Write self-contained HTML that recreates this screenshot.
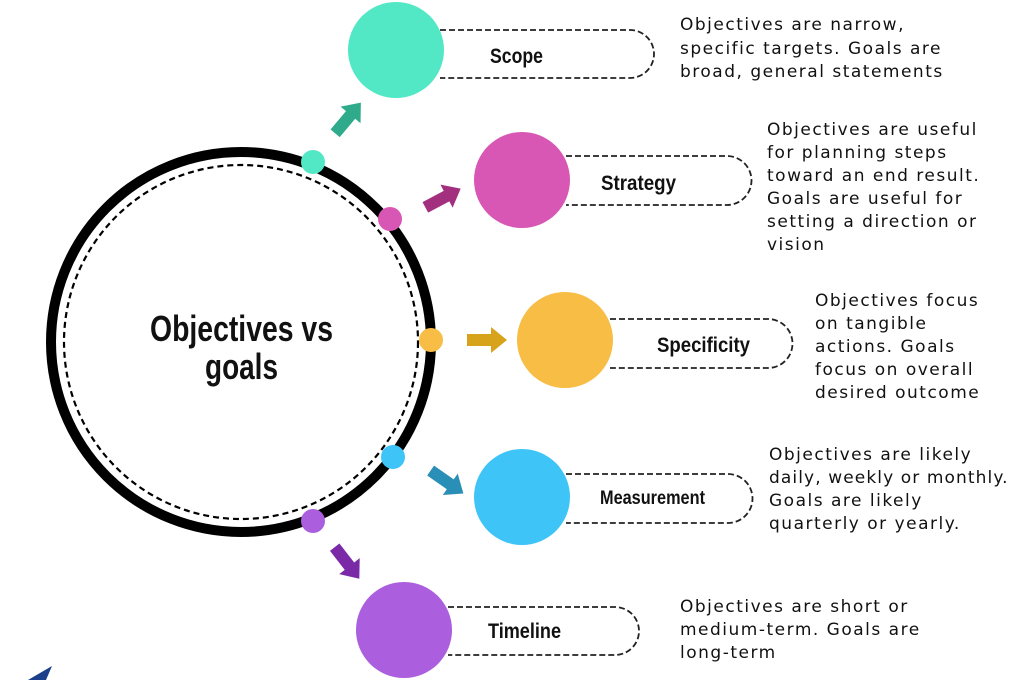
<!DOCTYPE html>
<html><head><meta charset="utf-8"><style>
html,body{margin:0;padding:0;background:#fff;width:1024px;height:680px;overflow:hidden}
svg{display:block}
.d{font-family:"DejaVu Sans","Liberation Sans",sans-serif;font-size:17px;fill:#111;letter-spacing:1.5px}
.l{font-family:"Liberation Sans",sans-serif;font-weight:bold;font-size:21px;fill:#111}
</style></head><body>
<svg width="1024" height="680" viewBox="0 0 1024 680">
<g fill="none" stroke="#222" stroke-width="1.8" stroke-dasharray="6,3">
<path d="M440 30 H630 A24 24 0 0 1 630 78 H440"/>
<path d="M566 156 H727 A24.5 24.5 0 0 1 727 205 H566"/>
<path d="M610 319 H768 A24.5 24.5 0 0 1 768 368 H610"/>
<path d="M566 474 H728 A24.5 24.5 0 0 1 728 523 H566"/>
<path d="M448 607 H615 A24 24 0 0 1 615 655 H448"/>
</g>
<circle cx="241" cy="342" r="190" fill="none" stroke="#000" stroke-width="10"/>
<circle cx="241" cy="342" r="177" fill="none" stroke="#000" stroke-width="2.2" stroke-dasharray="6,4"/>
<text x="150" y="341" textLength="183" lengthAdjust="spacingAndGlyphs" class="l" style="font-size:36px">Objectives vs</text>
<text x="205" y="379" textLength="73" lengthAdjust="spacingAndGlyphs" class="l" style="font-size:36px">goals</text>
<circle cx="396" cy="50" r="48" fill="#52e8c6"/>
<circle cx="522" cy="180" r="48" fill="#d957b4"/>
<circle cx="565" cy="340" r="48" fill="#f7bd45"/>
<circle cx="522" cy="497" r="48" fill="#3ec4f7"/>
<circle cx="404" cy="630" r="48" fill="#ab5fdf"/>
<circle cx="313" cy="162" r="12" fill="#52e8c6"/>
<circle cx="390" cy="219" r="12" fill="#d957b4"/>
<circle cx="431" cy="340" r="12" fill="#f7bd45"/>
<circle cx="393" cy="457" r="12" fill="#3ec4f7"/>
<circle cx="313" cy="521" r="12" fill="#ab5fdf"/>
<path transform="translate(348,118) rotate(-50)" d="M-20 -6 H4 V-13 L20 0 L4 13 V6 H-20 Z" fill="#2faa8a"/>
<path transform="translate(443,198) rotate(-28)" d="M-20 -6 H4 V-13 L20 0 L4 13 V6 H-20 Z" fill="#a3307f"/>
<path transform="translate(487,340)" d="M-20 -6 H4 V-13 L20 0 L4 13 V6 H-20 Z" fill="#d7a31a"/>
<path transform="translate(447,482) rotate(35)" d="M-20 -6 H4 V-13 L20 0 L4 13 V6 H-20 Z" fill="#2a8fb7"/>
<path transform="translate(347,563) rotate(52)" d="M-20 -6 H4 V-13 L20 0 L4 13 V6 H-20 Z" fill="#7a2aa6"/>
<text x="490" y="63" textLength="53" lengthAdjust="spacingAndGlyphs" class="l">Scope</text>
<text x="601" y="190" textLength="75" lengthAdjust="spacingAndGlyphs" class="l">Strategy</text>
<text x="657" y="352" textLength="93" lengthAdjust="spacingAndGlyphs" class="l">Specificity</text>
<text x="600" y="504" textLength="105" lengthAdjust="spacingAndGlyphs" class="l" style="font-size:19px">Measurement</text>
<text x="488" y="638" textLength="73" lengthAdjust="spacingAndGlyphs" class="l">Timeline</text>
<g class="d">
<text x="680" y="30">Objectives are narrow,</text>
<text x="680" y="54">specific targets. Goals are</text>
<text x="680" y="77">broad, general statements</text>
<text x="767" y="135">Objectives are useful</text>
<text x="767" y="158">for planning steps</text>
<text x="767" y="181">toward an end result.</text>
<text x="767" y="204">Goals are useful for</text>
<text x="767" y="227">setting a direction or</text>
<text x="767" y="250">vision</text>
<text x="815" y="306">Objectives focus</text>
<text x="815" y="329">on tangible</text>
<text x="815" y="352">actions. Goals</text>
<text x="815" y="375">focus on overall</text>
<text x="815" y="398">desired outcome</text>
<text x="769" y="460">Objectives are likely</text>
<text x="769" y="483" style="letter-spacing:1.1px">daily, weekly or monthly.</text>
<text x="769" y="506">Goals are likely</text>
<text x="769" y="529">quarterly or yearly.</text>
<text x="680" y="612">Objectives are short or</text>
<text x="680" y="635">medium-term. Goals are</text>
<text x="680" y="658">long-term</text>
</g>
<path d="M28 680 L52 666 L46 680 Z" fill="#1b3f8a"/>
</svg>
</body></html>
